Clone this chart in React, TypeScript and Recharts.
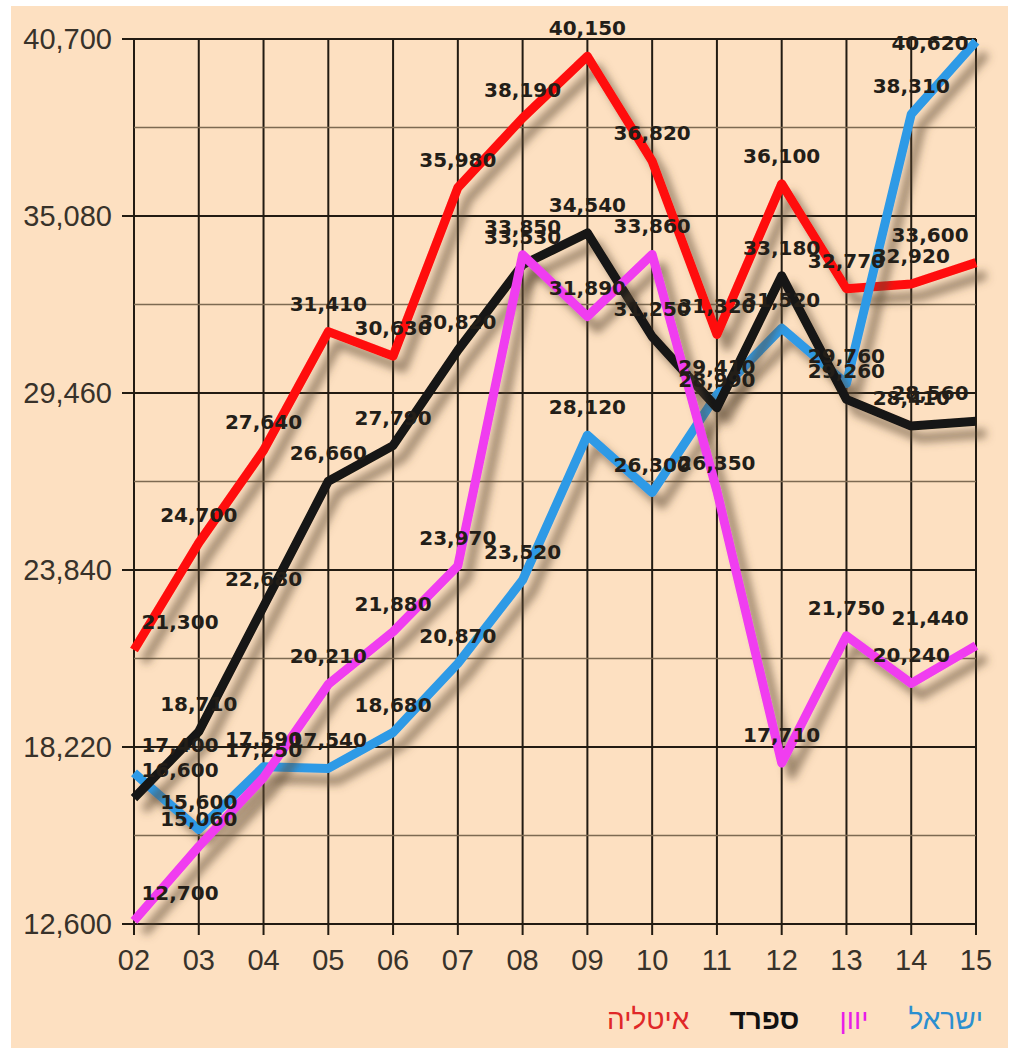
import React from 'react';
import { LineChart, Line, XAxis, YAxis, CartesianGrid, ReferenceLine, LabelList } from 'recharts';

const years = ['02', '03', '04', '05', '06', '07', '08', '09', '10', '11', '12', '13', '14', '15'];
const israel = [17400, 15600, 17590, 17540, 18680, 20870, 23520, 28120, 26300, 29410, 31520, 29760, 38310, 40620];
const greece = [12700, 15060, 17250, 20210, 21880, 23970, 33850, 31890, 33860, 26350, 17710, 21750, 20240, 21440];
const spain = [16600, 18710, 22680, 26660, 27790, 30820, 33530, 34540, 31250, 28990, 33180, 29260, 28410, 28560];
const italy = [21300, 24700, 27640, 31410, 30630, 35980, 38190, 40150, 36820, 31320, 36100, 32770, 32920, 33600];
const yTicks = [12600, 18220, 23840, 29460, 35080, 40700];
const minorTicks = [15410, 21030, 26650, 32270, 37890];

const seriesNames = ['ישראל', 'יוון', 'ספרד', 'איטליה'];
const seriesKeys = ['israel', 'greece', 'spain', 'italy'];
const seriesColors = ['#2f9ae6', '#f03cf0', '#161412', '#ff0a0a'];
const legendColors = ['#2b8fd0', '#e81ee8', '#111111', '#e02828'];

const data = years.map((y, i) => ({
  year: y,
  israel: israel[i],
  greece: greece[i],
  spain: spain[i],
  italy: italy[i],
}));

const fmt = (v: number) => Number(v).toLocaleString('en-US');

const n = years.length;
const renderLabel = (props: any) => {
  const { x, y, value, index } = props;
  if (x == null || y == null) return null;
  let dx = 0;
  if (index === 0) dx = 46;
  if (index === n - 1) dx = -46;
  let ly = y - 28;
  if (index === n - 1 && y < 60) ly = y + 1;
  return (
    <text
      x={x + dx}
      y={ly}
      textAnchor="middle"
      dominantBaseline="central"
      fontFamily="DejaVu Sans, sans-serif"
      fontWeight="bold"
      fontSize={20}
      fill="#231e18"
    >
      {fmt(value)}
    </text>
  );
};

// draw order: bottom to top
const drawOrder = [3, 0, 2, 1];

export default function App() {
  return (
    <div style={{ position: 'absolute', left: 0, top: 0, width: 1016, height: 1048, background: '#ffffff', overflow: 'hidden' }}>
      <div style={{ position: 'absolute', left: 11, top: 6, width: 997, height: 1042, background: '#fde0c1' }} />
      <div style={{ position: 'absolute', left: 0, top: 0 }}>
        <LineChart
          width={1016}
          height={1048}
          data={data}
          margin={{ top: 39, right: 40, bottom: 64, left: 12 }}
        >
          <defs>
            <filter id="lineShadow" x="-10%" y="-10%" width="130%" height="130%">
              <feDropShadow dx="10" dy="12" stdDeviation="4" floodColor="#5a4630" floodOpacity="0.6" />
            </filter>
          </defs>
          <CartesianGrid stroke="#221b12" strokeWidth={2} />
          {minorTicks.map((v) => (
            <ReferenceLine key={v} y={v} stroke="#7d6a52" strokeWidth={1.5} />
          ))}
          <XAxis
            dataKey="year"
            axisLine={false}
            tickLine={{ stroke: '#221b12', strokeWidth: 2 }}
            tickSize={11}
            tickMargin={14}
            height={60}
            interval={0}
            tick={{ fontFamily: 'Liberation Sans, Arial, sans-serif', fontSize: 29, fill: '#38322a' }}
          />
          <YAxis
            type="number"
            domain={[12600, 40700]}
            ticks={yTicks}
            interval={0}
            axisLine={false}
            tickLine={{ stroke: '#221b12', strokeWidth: 2 }}
            tickSize={12}
            tickMargin={10}
            width={122}
            tickFormatter={fmt}
            tick={{ fontFamily: 'Liberation Sans, Arial, sans-serif', fontSize: 29, fill: '#38322a' }}
          />
          {drawOrder.map((i) => (
            <Line
              key={seriesKeys[i]}
              type="linear"
              dataKey={seriesKeys[i]}
              name={seriesNames[i]}
              stroke={seriesColors[i]}
              strokeWidth={9}
              strokeLinejoin="round"
              dot={false}
              activeDot={false}
              filter="url(#lineShadow)"
              isAnimationActive={false}
            />
          ))}
          {drawOrder.map((i) => (
            <Line
              key={seriesKeys[i] + '-labels'}
              type="linear"
              dataKey={seriesKeys[i]}
              stroke="none"
              dot={false}
              activeDot={false}
              legendType="none"
              isAnimationActive={false}
            >
              <LabelList dataKey={seriesKeys[i]} content={renderLabel} />
            </Line>
          ))}
        </LineChart>
      </div>
      <div
        style={{
          position: 'absolute',
          top: 1003,
          right: 33,
          display: 'flex',
          direction: 'rtl',
          gap: 40,
          fontFamily: 'Liberation Sans, Arial, sans-serif',
          fontSize: 28,
          lineHeight: '34px',
        }}
      >
        {seriesNames.map((name, i) => (
          <span key={name} style={{ color: legendColors[i], fontWeight: i === 2 ? 'bold' : 'normal' }}>
            {name}
          </span>
        ))}
      </div>
    </div>
  );
}
